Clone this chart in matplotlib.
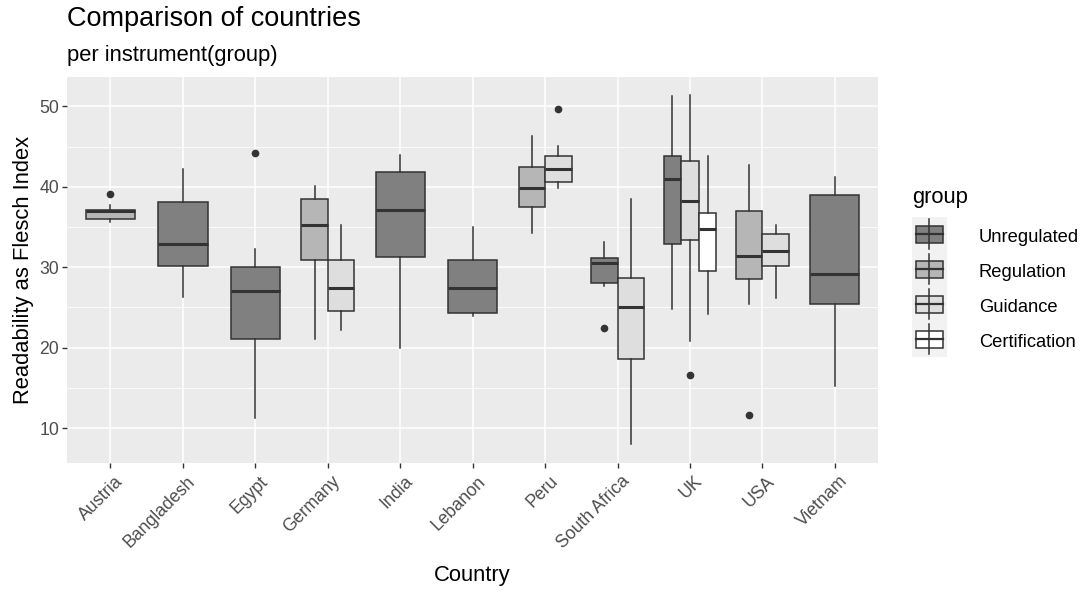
import matplotlib
matplotlib.use("Agg")
import matplotlib.pyplot as plt
import matplotlib.transforms as mtransforms
from matplotlib.patches import Rectangle

plt.rcParams['font.family'] = ['Liberation Sans', 'DejaVu Sans']

countries = ["Austria", "Bangladesh", "Egypt", "Germany", "India", "Lebanon",
             "Peru", "South Africa", "UK", "USA", "Vietnam"]
groups = ["Unregulated", "Regulation", "Guidance", "Certification"]
group_colors = ["#808080", "#b6b6b6", "#dedede", "#ffffff"]

# one entry per box (stats)
box_country = ["Austria", "Bangladesh", "Egypt", "Germany", "Germany", "India",
               "Lebanon", "Peru", "Peru", "South Africa", "South Africa",
               "UK", "UK", "UK", "USA", "USA", "Vietnam"]
box_group = ["Regulation", "Unregulated", "Unregulated", "Regulation", "Guidance",
             "Unregulated", "Unregulated", "Regulation", "Guidance", "Unregulated",
             "Guidance", "Unregulated", "Guidance", "Certification", "Regulation",
             "Guidance", "Unregulated"]
whislo = [35.6, 26.3, 11.2, 21.1, 22.2, 19.95, 23.9, 34.3, 39.8, 27.7, 8.05,
          24.85, 20.85, 24.25, 25.4, 26.2, 15.25]
q1 = [36.0, 30.2, 21.1, 30.9, 24.55, 31.3, 24.3, 37.55, 40.55, 28.1, 18.65,
      32.9, 33.4, 29.6, 28.5, 30.2, 25.45]
med = [36.95, 32.95, 27.1, 35.2, 27.45, 37.1, 27.45, 39.8, 42.2, 30.5, 25.0,
       40.95, 38.2, 34.8, 31.4, 32.0, 29.15]
q3 = [37.15, 38.1, 30.0, 38.5, 30.9, 41.9, 30.9, 42.45, 43.8, 31.1, 28.65,
      43.8, 43.25, 36.8, 37.0, 34.2, 39.05]
whishi = [37.8, 42.2, 32.3, 40.05, 35.2, 44.0, 34.95, 46.3, 45.1, 33.1, 38.55,
          51.25, 51.4, 43.8, 42.7, 35.2, 41.2]
outliers = [[39.1], [], [44.2], [], [], [], [], [], [49.7], [22.4], [],
            [], [16.6], [], [11.65], [], []]

fig = plt.figure(figsize=(10.88, 5.93), dpi=100)
W, H = 1088, 593
ax = fig.add_axes([67 / W, 1 - 462.7 / H, (878.3 - 67) / W, (462.7 - 76.7) / H])
ax.set_facecolor("#ebebeb")

# dodge boxes within each country
for ci, c in enumerate(countries):
    idx = [i for i in range(len(box_country)) if box_country[i] == c]
    idx.sort(key=lambda i: groups.index(box_group[i]))
    n = len(idx)
    if n == 1:
        wid = 0.68
        offs = [0.0]
    else:
        wid = 0.73 / n
        offs = [(k - (n - 1) / 2) * wid for k in range(n)]
    for k, i in enumerate(idx):
        st = dict(med=med[i], q1=q1[i], q3=q3[i], whislo=whislo[i],
                  whishi=whishi[i], fliers=outliers[i])
        col = group_colors[groups.index(box_group[i])]
        ax.bxp([st], positions=[ci + 1 + offs[k]], widths=wid, patch_artist=True,
               showcaps=False, manage_ticks=False,
               boxprops=dict(facecolor=col, edgecolor="#333333", linewidth=1.1),
               whiskerprops=dict(color="#333333", linewidth=1.1),
               medianprops=dict(color="#333333", linewidth=2.2),
               flierprops=dict(marker="o", markerfacecolor="#333333",
                               markeredgecolor="#333333", markersize=4.5),
               zorder=3)

ax.set_xlim(0.4, 11.6)
ax.set_ylim(5.7, 53.7)
ax.set_xticks(range(1, len(countries) + 1))
ax.set_xticklabels([])
# rotated country labels, nudged like ggplot's hjust=1
shift = mtransforms.ScaledTranslation(4 / 100, -10 / 100, fig.dpi_scale_trans)
for ci, c in enumerate(countries):
    ax.text(ci + 1, 0, c, rotation=45, ha="right", va="top",
            rotation_mode="anchor", color="#4d4d4d", fontsize=12.7,
            transform=ax.get_xaxis_transform() + shift)
ax.set_yticks([10, 20, 30, 40, 50])
ax.set_yticks([15, 25, 35, 45], minor=True)
ax.tick_params(axis="y", labelsize=12.7, labelcolor="#4d4d4d", color="#333333",
               length=3.7, width=1, pad=2)
ax.tick_params(axis="y", which="minor", length=0)
ax.tick_params(axis="x", color="#333333", length=3.7, width=1, pad=3)
ax.grid(True, which="major", color="white", linewidth=1.1, zorder=0)
ax.grid(True, which="minor", axis="y", color="white", linewidth=0.55, zorder=0)
ax.set_axisbelow(True)
for s in ax.spines.values():
    s.set_visible(False)

fig.text((67 + 878.3) / 2 / W, 1 - 575 / H, "Country", fontsize=15.8,
         va="center", ha="center")
ax.set_ylabel("Readability as Flesch Index", fontsize=15.8, color="black", labelpad=4)

fig.text(67 / W, 1 - 19 / H, "Comparison of countries", fontsize=19.5,
         va="center", ha="left")
fig.text(67 / W, 1 - 56 / H, "per instrument(group)", fontsize=15.8,
         va="center", ha="left")

# legend drawn in pixel coordinates
lax = fig.add_axes([0, 0, 1, 1], facecolor="none")
lax.set_xlim(0, W)
lax.set_ylim(H, 0)
lax.axis("off")
lax.text(912, 198, "group", fontsize=15.8, va="center", ha="left")
lax.add_patch(Rectangle((911.7, 216.7), 35, 140, facecolor="#f2f2f2",
                        edgecolor="none"))
for k, g in enumerate(groups):
    cy = 234.2 + 35 * k
    lax.plot([929, 929], [cy - 15, cy + 15], color="#333333", lw=1.1)
    lax.add_patch(Rectangle((915.5, cy - 8.5), 27, 17, facecolor=group_colors[k],
                            edgecolor="#333333", lw=1.1))
    lax.plot([915.5, 942.5], [cy, cy], color="#333333", lw=1.6)
    lax.text(979, cy + 3, g, fontsize=13.2, va="center", ha="left", color="black")

fig.savefig("out.png", dpi=100)
